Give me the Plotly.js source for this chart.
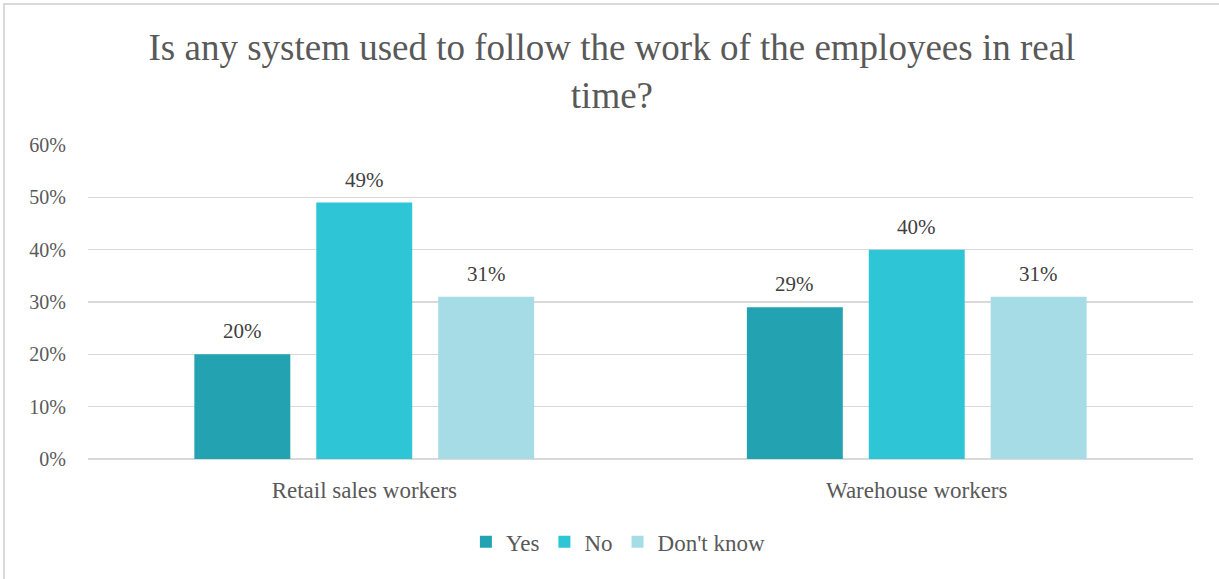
<!DOCTYPE html>
<html>
<head>
<meta charset="utf-8">
<script src="https://cdn.plot.ly/plotly-3.0.1.min.js"></script>
<style>
  html, body { margin: 0; padding: 0; background: #fff; }
  #wrap { position: relative; width: 1219px; height: 579px; }
  #chart { width: 1219px; height: 579px; }
  #frame { position: absolute; left: 3px; top: 3px; width: 1216px; height: 576px;
           border-left: 2px solid #D9D9D9; border-top: 2px solid #D9D9D9; pointer-events: none; box-sizing: border-box; }
</style>
</head>
<body>
<div id="wrap">
  <div id="chart"></div>
  <div id="frame"></div>
</div>
<script>
const categories = ["Retail sales workers", "Warehouse workers"];
const seriesNames = ["Yes", "No", "Don't know"];
const yesValues = [0.20, 0.29];
const noValues = [0.49, 0.40];
const dontKnowValues = [0.31, 0.31];
const colors = ["#23A2B2", "#2EC6D6", "#A6DCE5"];
const yTickVals = [0, 0.1, 0.2, 0.3, 0.4, 0.5, 0.6];
const yTickText = ["0%", "10%", "20%", "30%", "40%", "50%", "60%"];

const FONT = "Liberation Serif, DejaVu Serif, serif";
const allValues = [yesValues, noValues, dontKnowValues];
const BARGAP = 0.338;
const BARGROUPGAP = 0.213;

const traces = allValues.map((vals, i) => ({
  type: "bar",
  name: seriesNames[i],
  x: categories.map((c, k) => k),
  y: vals,
  marker: { color: colors[i] },
  hoverinfo: "skip"
}));

// value labels placed above each bar (group slot derived from bargap)
const slot = (1 - BARGAP) / seriesNames.length;
const annotations = [];
allValues.forEach((vals, i) => {
  vals.forEach((v, k) => {
    annotations.push({
      xref: "x", yref: "y",
      x: k + (i - (seriesNames.length - 1) / 2) * slot,
      y: v,
      text: Math.round(v * 100) + "%",
      showarrow: false,
      xanchor: "center", yanchor: "bottom",
      yshift: 9,
      font: { family: FONT, size: 21, color: "#404040" }
    });
  });
});

const layout = {
  width: 1219,
  height: 579,
  paper_bgcolor: "#ffffff",
  plot_bgcolor: "#ffffff",
  margin: { l: 88, r: 26, t: 145, b: 120, autoexpand: false },
  title: {
    text: "Is any system used to follow the work of the employees in real<br>time?",
    font: { family: FONT, size: 37, color: "#595959" },
    x: 0.502, xanchor: "center", xref: "container",
    y: 0.897, yanchor: "top"
  },
  barmode: "group",
  bargap: BARGAP,
  bargroupgap: BARGROUPGAP,
  showlegend: true,
  legend: {
    orientation: "h",
    x: 0.48, xanchor: "center",
    y: -0.264, yanchor: "middle",
    font: { family: FONT, size: 23, color: "#595959" },
    itemwidth: 30,
    traceorder: "normal"
  },
  xaxis: {
    type: "linear",
    range: [-0.5, categories.length - 0.5],
    tickvals: categories.map((c, k) => k),
    ticktext: categories,
    showgrid: false,
    showline: false,
    zeroline: false,
    ticks: "",
    tickfont: { family: FONT, size: 23, color: "#595959" },
    ticklabelstandoff: 15
  },
  yaxis: {
    range: [0, 0.6],
    tickvals: yTickVals,
    ticktext: yTickText,
    showgrid: true,
    gridcolor: "#D9D9D9",
    gridwidth: 1.5,
    zeroline: true,
    zerolinecolor: "#D9D9D9",
    zerolinewidth: 2,
    showline: false,
    ticks: "",
    tickfont: { family: FONT, size: 20, color: "#595959" },
    ticklabelstandoff: 21
  },
  annotations: annotations
};

Plotly.newPlot("chart", traces, layout, { displayModeBar: false, staticPlot: true });
</script>
</body>
</html>
